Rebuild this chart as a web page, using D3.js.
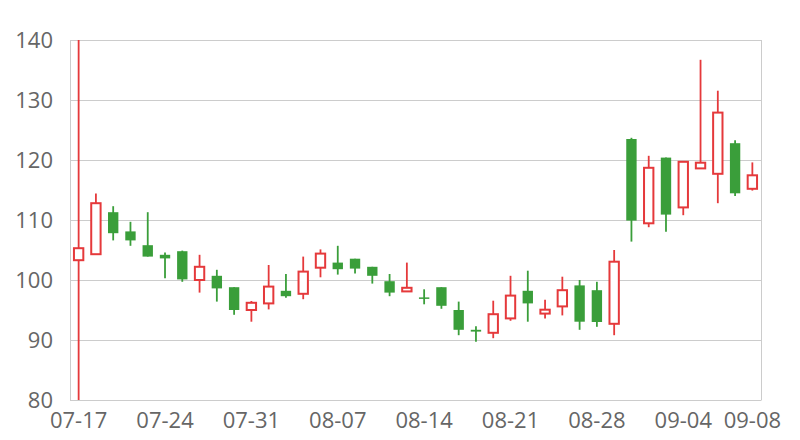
<!DOCTYPE html>
<html>
<head>
<meta charset="utf-8">
<script src="https://cdn.jsdelivr.net/npm/d3@7/dist/d3.min.js"></script>
<style>
  html, body { margin: 0; padding: 0; background: #fff; }
  svg { display: block; }
  text { font-family: "Open Sans", "Noto Sans", sans-serif; }
</style>
</head>
<body>
<svg id="chart" width="800" height="440"></svg>
<script>
const dates = [
  "07-17","07-18","07-19","07-20","07-21",
  "07-24","07-25","07-26","07-27","07-28",
  "07-31","08-01","08-02","08-03","08-04",
  "08-07","08-08","08-09","08-10","08-11",
  "08-14","08-15","08-16","08-17","08-18",
  "08-21","08-22","08-23","08-24","08-25",
  "08-28","08-29","08-30","08-31","09-01",
  "09-04","09-05","09-06","09-07","09-08"
];
const openVals = [
  103.3,104.3,111.3,108.1,105.8, 104.2,104.8,100.0,100.7,98.8,
  95.0,96.1,98.2,97.7,102.05, 102.9,103.55,102.2,99.8,98.1,
  97.1,98.8,95.0,91.7,91.2, 93.6,98.2,94.4,95.6,99.1,
  98.3,92.7,123.5,109.45,120.4, 112.1,118.6,117.7,122.8,115.2
];
const closeVals = [
  105.3,112.8,107.8,106.6,103.9, 103.6,100.1,102.2,98.6,95.0,
  96.2,98.9,97.3,101.4,104.4, 101.8,101.9,100.7,97.9,98.7,
  97.0,95.7,91.7,91.4,94.3, 97.4,96.1,95.05,98.3,93.05,
  93.0,103.05,109.9,118.7,110.9, 119.7,119.55,127.9,114.45,117.45
];
const highVals = [
  140,114.4,112.3,109.7,111.3, 104.6,104.9,104.2,101.7,98.8,
  96.5,102.5,101.0,103.9,105.1, 105.7,103.55,102.2,101.0,102.9,
  98.45,98.8,96.4,92.3,96.55, 100.7,101.55,96.7,100.55,100.0,
  99.7,105.0,123.7,120.7,120.4, 119.7,136.7,131.55,123.3,119.6
];
const lowVals = [
  80,104.3,106.6,105.7,103.9, 100.3,99.7,97.9,96.4,94.2,
  93.05,95.1,97.05,96.8,100.45, 100.9,101.1,99.4,97.3,98.1,
  95.95,95.2,90.8,89.7,90.3, 93.2,93.05,93.6,94.1,91.7,
  92.2,90.8,106.4,108.8,108.05, 110.8,118.6,112.8,114.0,114.9
];
const tickLabels = ["07-17","07-24","07-31","08-07","08-14","08-21","08-28","09-04","09-08"];
const yTicks = [80, 90, 100, 110, 120, 130, 140];

const data = dates.map((d, i) => ({
  date: d, open: openVals[i], close: closeVals[i], high: highVals[i], low: lowVals[i]
}));

const svg = d3.select("#chart");
const plotLeft = 70, plotRight = 761, plotTop = 40, plotBottom = 400;
const gridColor = "#cccccc";
const textColor = "#666666";
const upColor = "#e5393b";
const downColor = "#3a9e3a";

const x = d3.scaleBand().domain(dates).range([plotLeft, plotRight]).paddingInner(0.4).paddingOuter(0.2);
const y = d3.scaleLinear().domain([80, 140]).range([plotBottom, plotTop]);

// grid lines
svg.append("g").selectAll("line").data(yTicks).join("line")
  .attr("x1", plotLeft).attr("x2", plotRight)
  .attr("y1", d => Math.round(y(d)) + 0.5).attr("y2", d => Math.round(y(d)) + 0.5)
  .attr("stroke", gridColor).attr("stroke-width", 1);
// frame sides
svg.append("line").attr("x1", plotLeft + 0.5).attr("x2", plotLeft + 0.5).attr("y1", plotTop).attr("y2", plotBottom + 0.5)
  .attr("stroke", gridColor);
svg.append("line").attr("x1", plotRight + 0.5).attr("x2", plotRight + 0.5).attr("y1", plotTop).attr("y2", plotBottom + 0.5)
  .attr("stroke", gridColor);

// y axis
const yAxis = d3.axisLeft(y).tickValues(yTicks).tickSize(0).tickPadding(17).tickFormat(d3.format("d"));
const gy = svg.append("g").attr("transform", `translate(${plotLeft},0)`).call(yAxis);
gy.select(".domain").remove();
gy.selectAll("text").attr("fill", textColor).style("font-size", "22px")
  .style("font-family", '"Open Sans", "Noto Sans", sans-serif');

// x axis
const xAxis = d3.axisBottom(x).tickValues(tickLabels).tickSize(0).tickPadding(12);
const gx = svg.append("g").attr("transform", `translate(0,${plotBottom})`).call(xAxis);
gx.select(".domain").remove();
gx.selectAll("text").attr("fill", textColor).style("font-size", "22px")
  .style("font-family", '"Open Sans", "Noto Sans", sans-serif');

// candles
const cx = d => x(d.date) + x.bandwidth() / 2;
const g = svg.append("g");
g.selectAll("line.wick").data(data).join("line")
  .attr("class", "wick")
  .attr("x1", cx).attr("x2", cx)
  .attr("y1", d => y(d.high)).attr("y2", d => y(d.low))
  .attr("stroke", d => d.close >= d.open ? upColor : downColor)
  .attr("stroke-width", 1.8);
g.selectAll("rect.body").data(data).join("rect")
  .attr("class", "body")
  .attr("x", d => d.close >= d.open ? x(d.date) + 0.5 : x(d.date))
  .attr("width", d => d.close >= d.open ? x.bandwidth() - 1 : x.bandwidth())
  .attr("y", d => y(Math.max(d.open, d.close)))
  .attr("height", d => Math.max(1.5, Math.abs(y(d.open) - y(d.close))))
  .attr("fill", d => d.close >= d.open ? "#ffffff" : downColor)
  .attr("stroke", d => d.close >= d.open ? upColor : "none")
  .attr("stroke-width", 2);
</script>
</body>
</html>
